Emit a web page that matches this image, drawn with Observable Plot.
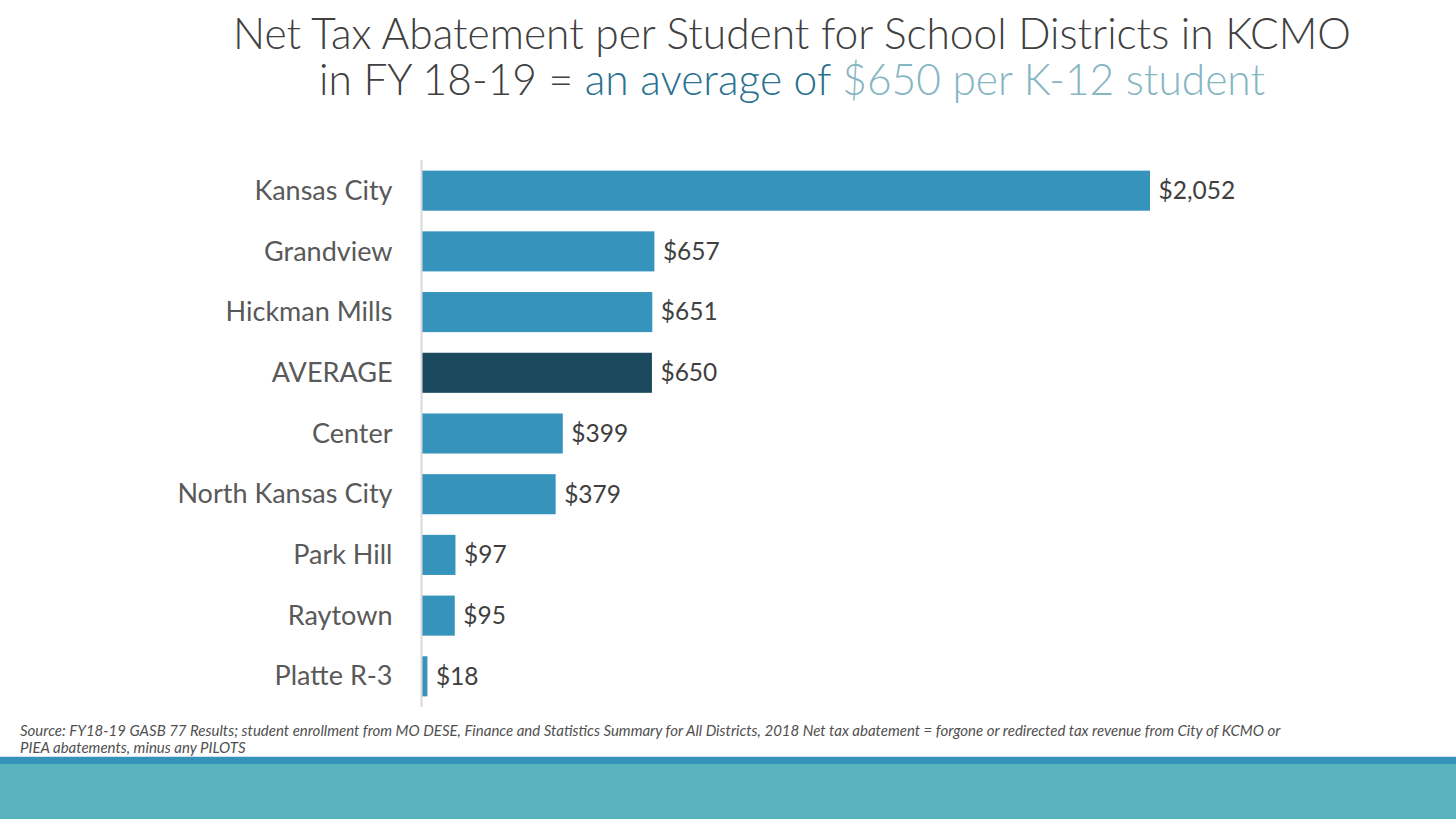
<!DOCTYPE html>
<html>
<head>
<meta charset="utf-8">
<script src="https://cdn.jsdelivr.net/npm/d3@7"></script>
<script src="https://cdn.jsdelivr.net/npm/@observablehq/plot@0.6"></script>
<style>
  html, body { margin: 0; padding: 0; background: #fff; }
  body { width: 1456px; height: 819px; position: relative; overflow: hidden; font-family: Lato, "Open Sans", sans-serif; }
  .title { position: absolute; left: 792px; transform: translateX(-50%); white-space: nowrap; font-family: Lato, sans-serif; font-weight: 300; font-size: 42.5px; color: #404040; height: 46px; line-height: 46px; text-align: center; }
  .l1 { top: 10px; }
  .l2 { top: 56px; }
  .t1 { color: #2a7191; }
  .t2 { color: #86b6c3; }
  #chart { position: absolute; left: 0; top: 137px; }
  .caption { position: absolute; left: 20px; top: 722px; width: 1290px; font-family: Lato, sans-serif; font-style: italic; font-size: 15px; line-height: 17px; color: #505050; }
  .bandline { position: absolute; left: 0; top: 756px; width: 1456px; height: 1px; background: #cfe3ea; }
  .band1 { position: absolute; left: 0; top: 757px; width: 1456px; height: 7px; background: #3592b8; }
  .band2 { position: absolute; left: 0; top: 764px; width: 1456px; height: 55px; background: #5ab4bf; }
</style>
</head>
<body>
<div class="title l1">Net Tax Abatement per Student for School Districts in KCMO</div>
<div class="title l2">in FY 18-19 = <span class="t1">an average of </span><span class="t2">$650 per K-12 student</span></div>
<div id="chart"></div>
<div class="caption">Source: FY18-19 GASB 77 Results; student enrollment from MO DESE, Finance and Statistics Summary for All Districts, 2018 Net tax abatement = forgone or redirected tax revenue from City of KCMO or PIEA abatements, minus any PILOTS</div>
<div class="bandline"></div>
<div class="band1"></div>
<div class="band2"></div>
<script>
const districts = ["Kansas City", "Grandview", "Hickman Mills", "AVERAGE", "Center", "North Kansas City", "Park Hill", "Raytown", "Platte R-3"];
const values = [2052, 657, 651, 650, 399, 379, 97, 95, 18];
const highlight = "AVERAGE";

const data = districts.map((name, i) => ({name, value: values[i]}));
const fmt = d3.format(",");

const chart = Plot.plot({
  width: 1456,
  height: 590,
  marginLeft: 421,
  marginRight: 306,
  marginTop: 13,
  marginBottom: 10,
  style: {fontFamily: "Lato, sans-serif", fontSize: "27px", color: "#595959", background: "transparent"},
  x: {domain: [0, 2052], axis: null},
  y: {domain: districts, padding: 0.34, round: false, label: null},
  marks: [
    Plot.axisY({tickSize: 0, tickPadding: 29, fontSize: 27, label: null}),
    Plot.barX(data, {x: "value", y: "name", fill: d => d.name === highlight ? "#1b4a5e" : "#3593bc"}),
    Plot.ruleX([0], {stroke: "#d9d9d9", strokeWidth: 2, insetTop: 10, insetBottom: 10}),
    Plot.text(data, {x: "value", y: "name", text: d => "$" + fmt(d.value), textAnchor: "start", dx: 8, fontSize: 24.5, fill: "#404040"})
  ]
});
document.getElementById("chart").appendChild(chart);
</script>
</body>
</html>
